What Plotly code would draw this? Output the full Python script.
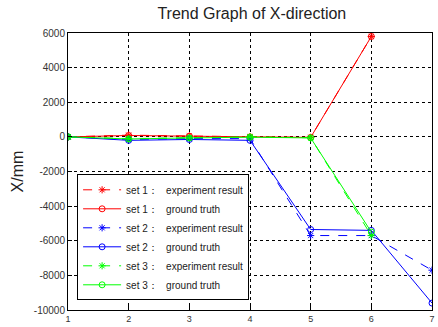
import plotly.graph_objects as go

# Sample index along the X-direction trend
steps = [1, 2, 3, 4, 5, 6, 7]

# Set 1 (red) — stops at step 6
set1_exp = [0, 100, 50, 0, -30, 5800]
set1_gt = [0, 80, 40, 0, -30, 5800]

# Set 2 (blue)
set2_exp = [0, -150, -100, -100, -5700, -5700, -7700]
set2_gt = [0, -200, -150, -200, -5350, -5400, -9600]

# Set 3 (green) — stops at step 6
set3_exp = [0, -100, -50, 0, -50, -5700]
set3_gt = [0, -120, -60, -20, -60, -5500]

y_ticks = [6000, 4000, 2000, 0, -2000, -4000, -6000, -8000, -10000]
y_tick_text = [str(v) for v in y_ticks]

series = [
    ("set 1：   experiment result", set1_exp, "#ff0000", "dash", "asterisk-open"),
    ("set 1：   ground truth", set1_gt, "#ff0000", "solid", "circle-open"),
    ("set 2：   experiment result", set2_exp, "#0000ff", "dash", "asterisk-open"),
    ("set 2：   ground truth", set2_gt, "#0000ff", "solid", "circle-open"),
    ("set 3：   experiment result", set3_exp, "#00ff00", "dash", "asterisk-open"),
    ("set 3：   ground truth", set3_gt, "#00ff00", "solid", "circle-open"),
]

fig = go.Figure()
for name, vals, color, dash, symbol in series:
    fig.add_trace(go.Scatter(
        x=steps[:len(vals)], y=vals, name=name, mode="lines+markers",
        line=dict(color=color, width=1, dash=dash),
        marker=dict(symbol=symbol, size=6, color=color, line=dict(color=color, width=1)),
    ))

axis_common = dict(
    showgrid=True, gridcolor="black", gridwidth=1, griddash="3px,3px",
    showline=True, linecolor="black", linewidth=1, mirror=True,
    ticks="inside", ticklen=4, tickcolor="black",
    zeroline=False,
)

fig.update_xaxes(range=[1, 7], tickvals=steps,
                 tickfont=dict(family="Liberation Sans, Arial, sans-serif", size=9, color="#333"),
                 **axis_common)
fig.update_yaxes(range=[-10000, 6000], tickvals=y_ticks, ticktext=y_tick_text,
                 tickfont=dict(family="Liberation Sans, Arial, sans-serif", size=10, color="#333"),
                 title=dict(text="X/mm", font=dict(family="Liberation Sans, Arial, sans-serif", size=16, color="#222"), standoff=6),
                 **axis_common)

fig.update_layout(
    width=438, height=327,
    margin=dict(l=68, r=3, t=33, b=14),
    paper_bgcolor="white", plot_bgcolor="white",
    title=dict(text="Trend Graph of X-direction", x=0.575, xanchor="center", y=0.975, yanchor="top",
               font=dict(family="Liberation Sans, Arial, sans-serif", size=16, color="#222")),
    legend=dict(
        x=0.025, y=0.035, xanchor="left", yanchor="bottom",
        bgcolor="white", bordercolor="black", borderwidth=1,
        font=dict(family="Liberation Sans, Arial, sans-serif", size=10, color="#222"),
        tracegroupgap=0, itemwidth=38,
    ),
    showlegend=True,
)

fig.write_html("out.html")
